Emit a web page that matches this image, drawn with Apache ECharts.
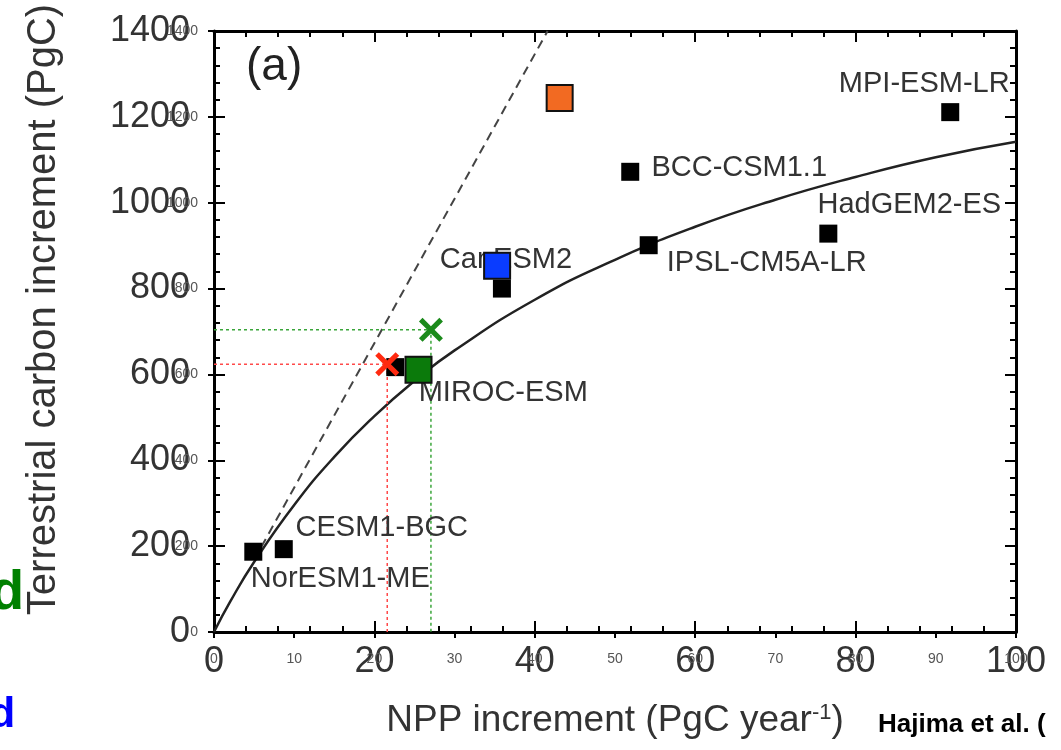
<!DOCTYPE html>
<html>
<head>
<meta charset="utf-8">
<script src="https://cdn.jsdelivr.net/npm/echarts@6/dist/echarts.min.js"></script>
<style>
  html, body { margin: 0; padding: 0; background: #fff; }
  #container { width: 1061px; height: 750px; }
</style>
</head>
<body>
<div id="container"></div>
<script>
// model results (NPP increment vs terrestrial carbon increment)
let models = ['NorESM1-ME', 'CESM1-BGC', 'MIROC-ESM', 'CanESM2', 'BCC-CSM1.1', 'IPSL-CM5A-LR', 'HadGEM2-ES', 'MPI-ESM-LR'];
let npp = [4.9, 8.7, 22.6, 35.9, 51.9, 54.2, 76.6, 91.8];
let carbon = [187, 193, 617, 800, 1072, 901, 928, 1211];

// highlighted points
let blueSquare = [35.3, 853];
let orangeSquare = [43.1, 1244];
let greenSquare = [25.5, 611];
let redCross = [21.6, 624];
let greenCross = [27.05, 704];

// fitted curve
let fitX = [0, 2, 5, 10, 15, 20, 25, 30, 40, 50, 60, 70, 80, 90, 100];
let fitY = [0, 70, 163, 296, 408, 503, 585, 656, 774, 867, 944, 1007, 1060, 1106, 1142];

// dashed reference line
let refX = [5, 41.6];
let refY = [168, 1400];

// label offsets (pixels from the marker centre)
let labelOffsets = [[87, 27], [98, -21], [108, 26], [4, -29], [109, -4], [118, 18], [81, -29], [-26, -28]];

let dom = document.getElementById('container');
let chart = echarts.init(dom);

let black = '#000';
let textColor = '#333';
let crossPath = 'path://M0,1.5L1.5,0L5,3.5L8.5,0L10,1.5L6.5,5L10,8.5L8.5,10L5,6.5L1.5,10L0,8.5L3.5,5Z';
let plain = (v) => String(v);

function frameAxis(pos, interval, showLabel, labelSize, margin) {
    return {
        type: 'value',
        position: pos,
        min: 0,
        max: pos === 'left' || pos === 'right' ? 1400 : 100,
        interval: interval,
        axisLine: {show: true, onZero: false, lineStyle: {color: black, width: 3}},
        axisTick: {show: true, inside: true, length: 11, lineStyle: {color: black, width: 2}},
        minorTick: {show: true, splitNumber: 5, length: 6, lineStyle: {color: black, width: 2}},
        splitLine: {show: false},
        axisLabel: {show: showLabel, fontSize: labelSize, margin: margin, color: textColor, fontFamily: 'Liberation Sans', formatter: plain}
    };
}

function ghostAxis(pos, interval, labelSize, margin) {
    return {
        type: 'value',
        position: pos,
        min: 0,
        max: pos === 'left' ? 1400 : 100,
        interval: interval,
        axisLine: {show: false, onZero: false},
        axisTick: {show: true, inside: false, length: 6, lineStyle: {color: black, width: 2}},
        splitLine: {show: false},
        axisLabel: {fontSize: labelSize, margin: margin, color: '#555', fontFamily: 'Liberation Sans', formatter: plain}
    };
}

let xMain = frameAxis('bottom', 20, true, 36, 12);
xMain.name = 'NPP increment (PgC year{sup|-1})';
xMain.nameLocation = 'middle';
xMain.nameGap = 70;
xMain.nameTextStyle = {
    fontSize: 37, color: textColor, fontFamily: 'Liberation Sans',
    rich: {sup: {fontSize: 22, color: textColor, verticalAlign: 'top', padding: [0, 0, 16, 0]}}
};

let yMain = frameAxis('left', 200, true, 36, 24);
yMain.name = 'Terrestrial carbon increment (PgC)';
yMain.nameLocation = 'middle';
yMain.nameGap = 150;
yMain.nameTextStyle = {fontSize: 40, color: textColor, fontFamily: 'Liberation Sans', padding: [0, 0, 0, 44]};

let modelData = models.map((m, i) => ({
    name: m,
    value: [npp[i], carbon[i]],
    label: {offset: labelOffsets[i]}
}));

chart.setOption({
    backgroundColor: '#fff',
    animation: false,
    grid: {left: 214, right: 45, top: 31, bottom: 118, containLabel: false, outerBoundsMode: 'none'},
    xAxis: [xMain, ghostAxis('bottom', 10, 14, 20), frameAxis('top', 20, false)],
    yAxis: [yMain, ghostAxis('left', 200, 14, 16), frameAxis('right', 200, false)],
    graphic: [
        {type: 'text', left: 246, top: 44, z: 10, style: {text: '(a)', fontSize: 46, fill: '#222', fontFamily: 'Liberation Sans'}},
        {type: 'text', x: 878, y: 738, z: 10, style: {text: 'Hajima et al. (', fontSize: 26, fontWeight: 'bold', fill: '#000', fontFamily: 'Liberation Sans', verticalAlign: 'bottom'}},
        {type: 'text', x: -10, y: 622, z: 10, style: {text: 'd', fontSize: 56, fontWeight: 'bold', fill: '#008000', fontFamily: 'Liberation Sans', verticalAlign: 'bottom'}},
        {type: 'text', x: -11, y: 737, z: 10, style: {text: 'd', fontSize: 43, fontWeight: 'bold', fill: '#0000ff', fontFamily: 'Liberation Sans', verticalAlign: 'bottom'}}
    ],
    series: [
        {
            type: 'line',
            data: fitX.map((x, i) => [x, fitY[i]]),
            smooth: true,
            showSymbol: false,
            lineStyle: {color: '#222', width: 2.5},
            z: 2
        },
        {
            type: 'line',
            data: refX.map((x, i) => [x, refY[i]]),
            showSymbol: false,
            lineStyle: {color: '#444', width: 2, type: [9, 6]},
            z: 2
        },
        {
            type: 'line',
            data: [[0, redCross[1]], redCross, [redCross[0], 0]],
            showSymbol: false,
            lineStyle: {color: '#ff4a4a', width: 1.5, type: [3, 3]},
            z: 2
        },
        {
            type: 'line',
            data: [[0, greenCross[1]], greenCross, [greenCross[0], 0]],
            showSymbol: false,
            lineStyle: {color: '#3aa53a', width: 1.5, type: [3, 3]},
            z: 2
        },
        {
            type: 'scatter',
            data: modelData,
            symbol: 'rect',
            symbolSize: 18,
            itemStyle: {color: black, opacity: 1},
            label: {
                show: true,
                position: 'inside',
                formatter: '{b}',
                fontSize: 29,
                color: textColor,
                fontFamily: 'Liberation Sans'
            },
            z: 3
        },
        {
            type: 'scatter',
            data: [
                {value: blueSquare, itemStyle: {color: '#0a3cff'}},
                {value: orangeSquare, itemStyle: {color: '#f26a22'}},
                {value: greenSquare, itemStyle: {color: '#0b7a0b'}}
            ],
            symbol: 'rect',
            symbolSize: 26,
            itemStyle: {borderColor: '#111', borderWidth: 2, opacity: 1},
            z: 4
        },
        {
            type: 'scatter',
            data: [
                {value: redCross, itemStyle: {color: '#ff2a10'}},
                {value: greenCross, itemStyle: {color: '#1b8a1b'}}
            ],
            symbol: crossPath,
            symbolSize: 24,
            itemStyle: {opacity: 1},
            z: 5
        }
    ]
});
</script>
</body>
</html>
